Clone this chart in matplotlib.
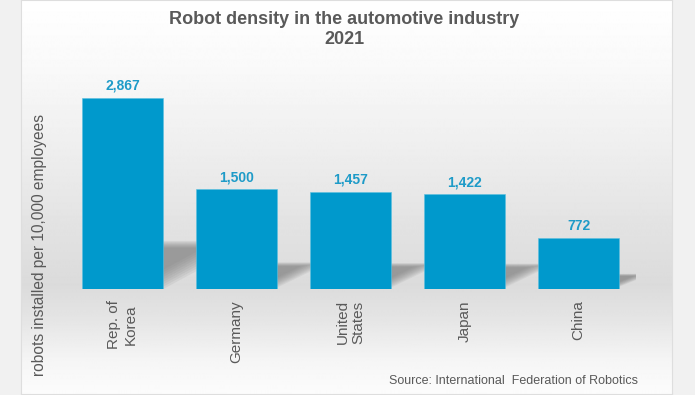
import numpy as np
import matplotlib
matplotlib.use("Agg")
import matplotlib.pyplot as plt
from matplotlib.patches import Polygon

plt.rcParams['font.family'] = ['Liberation Sans', 'DejaVu Sans']

# ---------------- data ----------------
countries = ["Rep. of\nKorea", "Germany", "United\nStates", "Japan", "China"]
density = [2867, 1500, 1457, 1422, 772]
value_labels = ["2,867", "1,500", "1,457", "1,422", "772"]

ylabel = "robots installed per 10,000 employees"
source = "Source: International  Federation of Robotics"

bar_color = "#0099cc"
label_color = "#1e9bc8"
text_gray = "#595959"

W, H = 695, 395
fig = plt.figure(figsize=(W / 100, H / 100), dpi=100, facecolor="#f1f1f1")

def fx(px):
    return px / W

def fy(py):
    return 1 - py / H

# ---------------- background panel with gradient ----------------
bg = fig.add_axes([fx(21), fy(394), fx(672 - 21), 394 / H], zorder=0)
stops_y = [0, 60, 150, 230, 285, 320, 360, 394]
stops_c = [255, 250, 238, 226, 219, 229, 245, 252]
rows = np.interp(np.arange(395), stops_y, stops_c) / 255.0
grad = np.repeat(rows[:, None], 10, axis=1)
bg.imshow(grad, cmap="gray", vmin=0, vmax=1, aspect="auto", extent=[0, 1, 0, 1])
bg.set_xticks([])
bg.set_yticks([])
for s in bg.spines.values():
    s.set_color("#dedede")
    s.set_linewidth(0.8)

# ---------------- main axes ----------------
base_px = 289
top_px = 69
ax = fig.add_axes([fx(65.5), fy(base_px), fx(635.5 - 65.5), (base_px - top_px) / H], zorder=1)
ax.patch.set_alpha(0)
px_per_unit = 191 / 2867.0
unit_px = 114.0
ymax = (base_px - top_px) / px_per_unit
ax.set_xlim(-0.5, len(countries) - 0.5)
ax.set_ylim(0, ymax)

x = np.arange(len(countries))
width = 81 / unit_px

# soft shadows behind bars (shape in pixel offsets from the bar's right foot)
for xi, v in zip(x, density):
    right = xi + width / 2
    h = 0.23 * v * px_per_unit + 3     # shadow height in px
    dx = 1.6 * h + 6                    # reach to the right in px
    shape = np.array([[-30, 3], [0, 3], [dx, h], [-30, h]], dtype=float)
    anchor = np.array([0, 0.75 * h])
    for s in np.linspace(1.1, 0.5, 9):
        pts = anchor + (shape - anchor) * s
        data_pts = [(right + p[0] / unit_px, p[1] / px_per_unit) for p in pts]
        ax.add_patch(Polygon(data_pts, closed=True, facecolor="#747474",
                             edgecolor="none", alpha=0.1, zorder=1))

ax.bar(x, density, width=width, color=bar_color, edgecolor="#5cc0e0",
       linewidth=0.4, zorder=3)

for xi, v, lab in zip(x, density, value_labels):
    ax.annotate(lab, (xi, v), xytext=(0, 5.8), textcoords="offset points",
                ha="center", va="baseline", fontsize=10, fontweight="bold",
                color=label_color, zorder=4)

ax.set_xticks(x)
ax.set_xticklabels(countries, rotation=90, ha="center", va="top",
                   multialignment="center", fontsize=11, color=text_gray)
ax.tick_params(axis="x", length=0, pad=8)
ax.set_yticks([])
for s in ax.spines.values():
    s.set_visible(False)

# ---------------- texts ----------------
fig.text(fx(344), fy(24.5), "Robot density in the automotive industry", ha="center",
         va="baseline", fontsize=13, fontweight="bold", color=text_gray)
fig.text(fx(344), fy(44), "2021", ha="center", va="baseline", fontsize=13,
         fontweight="bold", color=text_gray)
fig.text(fx(40), fy(244.5), ylabel, rotation=90, ha="center", va="center",
         fontsize=11.2, color=text_gray)
fig.text(fx(638), fy(384), source, ha="right", va="baseline", fontsize=9,
         color=text_gray)

fig.savefig("out.png", dpi=100, facecolor=fig.get_facecolor())
